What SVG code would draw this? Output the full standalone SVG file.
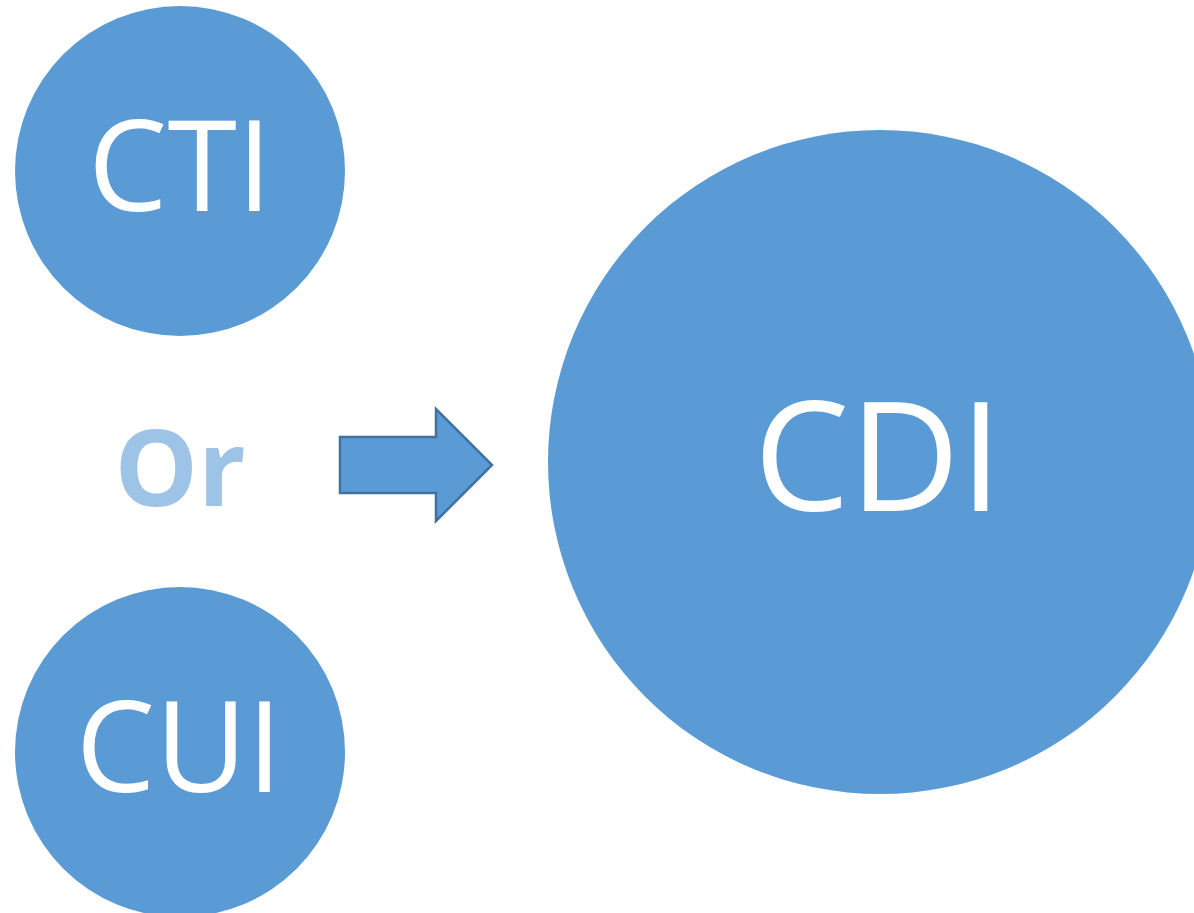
<svg xmlns="http://www.w3.org/2000/svg" width="1194" height="913" viewBox="0 0 1194 913">
<style>
.c{fill:#5B9BD5;}
.t{fill:#FFFFFF;font-family:"Open Sans","Liberation Sans",sans-serif;text-anchor:middle;}
.or{fill:#9DC3E6;font-family:"Open Sans","Liberation Sans",sans-serif;font-weight:bold;text-anchor:middle;}
</style>
<rect width="1194" height="913" fill="#FFFFFF"/>
<g id="cti"><circle class="c" cx="180" cy="171" r="165"/><text class="t" x="180" y="211" font-size="126">CTI</text></g>
<g id="cui"><circle class="c" cx="180" cy="752" r="165"/><text class="t" x="179" y="792" font-size="126">CUI</text></g>
<g id="cdi"><circle class="c" cx="880" cy="462" r="332"/><text class="t" x="878" y="511" font-size="152">CDI</text></g>
<g id="or"><text class="or" x="180" y="506" font-size="105">Or</text></g>
<g id="connectors"><polygon points="340,437 436,437 436,409 492,465 436,521 436,493 340,493" fill="#5B9BD5" stroke="#41719C" stroke-width="2.5"/></g>
</svg>
